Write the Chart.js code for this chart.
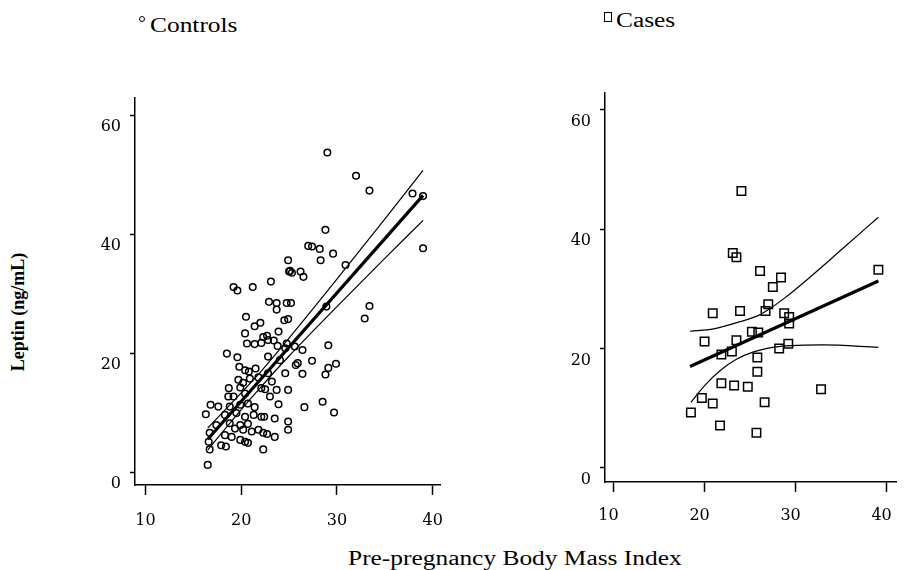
<!DOCTYPE html>
<html>
<head>
<meta charset="utf-8">
<script src="https://cdn.jsdelivr.net/npm/chart.js@4.4.1/dist/chart.umd.min.js"></script>
<style>
  body { margin: 0; background: #fff; width: 911px; height: 570px; position: relative; overflow: hidden; font-family: 'Liberation Serif', serif; color: #000; }
  canvas { position: absolute; top: 0; }
  #leftChart { left: 0; }
  #rightChart { left: 470px; }
  .txt { position: absolute; white-space: nowrap; font-size: 20px; line-height: 22px; transform: scaleX(1.27); transform-origin: 0 50%; }
  #ylab { position: absolute; left: 18px; top: 312px; font-weight: bold; font-size: 18px; white-space: nowrap; transform: translate(-50%, -50%) rotate(-90deg); }
  .dot { position: absolute; left: 139px; top: 16px; width: 4px; height: 4px; border: 1.2px solid #000; border-radius: 50%; }
  .box { position: absolute; left: 604px; top: 12px; width: 6px; height: 8px; border: 1.3px solid #000; }
</style>
</head>
<body>
<div class="dot"></div>
<div class="txt" style="left:150px; top:14px;">Controls</div>
<div class="box"></div>
<div class="txt" style="left:616px; top:9px;">Cases</div>
<div id="ylab">Leptin (ng/mL)</div>
<div class="txt" style="left:348px; top:547px;">Pre-pregnancy Body Mass Index</div>
<canvas id="leftChart" width="470" height="570"></canvas>
<canvas id="rightChart" width="441" height="570"></canvas>
<script>
const xTicks = [10, 20, 30, 40];
const yTicks = [0, 20, 40, 60];

// Controls
const controlsBMI = [24.9, 25.0, 19.2, 19.6, 21.2, 23.1, 22.9, 23.7, 24.75, 23.7, 25.2, 20.5, 21.4, 22.0, 24.5, 24.9,
  20.4, 22.3, 22.7, 23.9, 20.6, 21.4, 22.1, 22.8, 23.4, 23.8, 18.5, 19.6, 22.8, 24.6, 24.75, 25.6, 26.4, 29.1,
  19.8, 20.4, 20.8, 21.5, 24.05, 27.4, 25.7, 25.9, 29.1, 29.9, 28.8, 26.4, 24.6, 19.7, 20.2, 20.9, 21.8, 22.8,
  18.7, 19.9, 18.65, 19.2, 20.4, 22.1, 23.2, 22.5, 23.0, 23.7, 24.9, 16.8, 17.6, 16.3, 18.8, 19.9, 20.7, 21.4,
  23.9, 18.3, 19.5, 20.4, 21.3, 22.1, 22.4, 23.5, 17.4, 18.8, 19.9, 20.7, 19.35, 20.2, 21.1, 21.8, 22.3, 22.7,
  24.9, 24.9, 16.7, 18.3, 19.0, 19.9, 20.4, 20.7, 23.5, 16.6, 17.9, 18.4, 16.7, 22.3, 16.5, 29.0, 32.0, 33.4,
  37.9, 39.0, 28.8, 27.0, 27.4, 28.2, 29.6, 28.3, 25.1, 25.3, 26.2, 26.5, 30.9, 39.0, 28.9, 33.4, 32.9, 26.6,
  28.5, 29.7];
const controlsLeptin = [35.6, 33.7, 31.1, 30.5, 31.1, 32.0, 28.6, 28.4, 28.4, 27.3, 28.4, 26.1, 24.5, 25.1, 25.5, 25.7,
  23.3, 22.7, 22.9, 23.6, 21.6, 21.5, 21.7, 22.2, 22.1, 21.2, 19.9, 19.3, 19.4, 20.8, 21.6, 21.1, 20.5, 21.3,
  17.7, 17.1, 16.9, 17.4, 18.8, 18.7, 18.0, 18.3, 17.5, 18.2, 16.4, 16.5, 16.6, 15.5, 15.0, 15.7, 15.9, 16.6,
  14.1, 14.2, 12.7, 12.7, 13.2, 14.1, 15.2, 13.9, 12.7, 13.8, 13.8, 11.3, 11.0, 9.7, 11.0, 11.3, 11.5, 10.9,
  11.4, 9.6, 9.9, 9.3, 9.6, 9.3, 9.3, 9.0, 7.9, 8.2, 7.9, 8.1, 7.3, 7.1, 6.8, 7.1, 6.6, 6.4,
  8.5, 7.1, 6.6, 6.2, 5.9, 5.4, 5.1, 4.9, 5.9, 5.1, 4.5, 4.3, 3.8, 3.8, 1.2, 53.7, 49.8, 47.3,
  46.8, 46.4, 40.7, 38.0, 37.9, 37.5, 36.7, 35.6, 33.8, 33.5, 33.7, 32.8, 34.8, 37.6, 27.8, 27.9, 25.8, 10.9,
  11.8, 10.0];
const controlsFitBMI = [16.5, 39.0];
const controlsFitLeptin = [5.5, 46.5];
const controlsBandBMI = [16.5, 20, 22, 25, 30, 35, 39];
const controlsUpper = [7.4, 13.3, 16.8, 22.5, 32.4, 42.5, 50.7];
const controlsLower = [3.7, 10.5, 14.2, 19.5, 27.8, 35.9, 42.3];

// Cases
const casesBMI = [24.05, 23.1, 23.5, 26.1, 28.4, 27.5, 39.1, 20.9, 23.9, 27.0, 26.7, 28.75, 29.3, 29.3, 20.0, 23.5,
  25.2, 25.9, 21.85, 23.0, 25.8, 28.2, 29.2, 25.8, 21.85, 23.25, 24.75, 32.8, 19.7, 20.9, 26.6, 18.5, 21.7, 25.7];
const casesLeptin = [46.4, 36.0, 35.3, 33.0, 31.9, 30.3, 33.2, 25.9, 26.3, 27.4, 26.3, 25.9, 25.3, 24.2, 21.2, 21.4,
  22.8, 22.7, 19.0, 19.5, 18.5, 20.0, 20.8, 16.1, 14.2, 13.8, 13.6, 13.2, 11.7, 10.8, 11.0, 9.3, 7.1, 5.9];
const casesFitBMI = [18.4, 39.1];
const casesFitLeptin = [17.0, 31.3];
const casesUpperBMI = [18.4, 21, 23.9, 26, 27, 28.75, 31, 35, 39.1];
const casesUpper = [22.9, 23.3, 24.5, 25.6, 26.5, 28.4, 31.2, 36.5, 42.0];
const casesLowerBMI = [18.5, 20, 21.8, 23.5, 25.3, 27.5, 29.5, 33, 39.1];
const casesLower = [11.0, 13.8, 16.4, 18.2, 19.4, 20.2, 20.5, 20.6, 20.2];

function pairs(xs, ys) {
  return xs.map((x, i) => ({ x: x, y: ys[i] }));
}

function lineSet(xs, ys, width) {
  return {
    type: 'line',
    data: pairs(xs, ys),
    borderColor: '#000',
    borderWidth: width,
    pointRadius: 0,
    fill: false,
    tension: 0.35,
    cubicInterpolationMode: 'monotone'
  };
}

function makeChart(id, cfg) {
  return new Chart(document.getElementById(id), {
    type: 'scatter',
    data: {
      datasets: [
        lineSet(cfg.fitX, cfg.fitY, 3.2),
        lineSet(cfg.upX, cfg.up, 1.2),
        lineSet(cfg.lowX, cfg.low, 1.2),
        {
          data: pairs(cfg.ptsX, cfg.ptsY),
          pointStyle: cfg.pointStyle,
          pointRadius: cfg.radius,
          borderColor: '#000',
          borderWidth: 1.5,
          backgroundColor: 'rgba(0,0,0,0)'
        }
      ]
    },
    options: {
      responsive: false,
      animation: false,
      devicePixelRatio: 1,
      layout: { padding: { top: cfg.top, right: cfg.right, left: 0, bottom: 0 } },
      plugins: { legend: { display: false }, tooltip: { enabled: false } },
      scales: {
        x: {
          type: 'linear',
          min: cfg.xMin,
          max: cfg.xMax,
          afterBuildTicks: s => { s.ticks = xTicks.map(v => ({ value: v })); },
          afterFit: s => { s.height = cfg.xHeight; },
          grid: { drawOnChartArea: false, tickLength: 10, tickColor: '#000', tickWidth: 1.5 },
          border: { color: '#000', width: 1.5 },
          ticks: { color: '#000', padding: cfg.xPad, labelOffset: cfg.xLabelOffset, maxRotation: 0,
                   font: { family: 'DejaVu Serif', size: 16 } }
        },
        y: {
          type: 'linear',
          min: cfg.yMin,
          max: cfg.yMax,
          afterBuildTicks: s => { s.ticks = yTicks.map(v => ({ value: v })); },
          afterFit: s => { s.width = 135; },
          grid: { drawOnChartArea: false, tickLength: 5, tickColor: '#000', tickWidth: 1.5 },
          border: { color: '#000', width: 1.5 },
          ticks: { color: '#000', padding: 9, labelOffset: 12,
                   font: { family: 'DejaVu Serif', size: 16 } }
        }
      }
    }
  });
}

makeChart('leftChart', {
  ptsX: controlsBMI, ptsY: controlsLeptin,
  fitX: controlsFitBMI, fitY: controlsFitLeptin,
  upX: controlsBandBMI, up: controlsUpper,
  lowX: controlsBandBMI, low: controlsLower,
  pointStyle: 'circle', radius: 3.3,
  xMin: 8.9, xMax: 40.77, yMin: -2.18, yMax: 62.86,
  top: 98, right: 30, xHeight: 85, xPad: 16, xLabelOffset: 0
});

makeChart('rightChart', {
  ptsX: casesBMI, ptsY: casesLeptin,
  fitX: casesFitBMI, fitY: casesFitLeptin,
  upX: casesUpperBMI, up: casesUpper,
  lowX: casesLowerBMI, low: casesLower,
  pointStyle: 'rect', radius: 6,
  xMin: 9.06, xMax: 41.07, yMin: -2.35, yMax: 62.8,
  top: 93, right: 0, xHeight: 88, xPad: 14, xLabelOffset: -5
});
</script>
</body>
</html>
